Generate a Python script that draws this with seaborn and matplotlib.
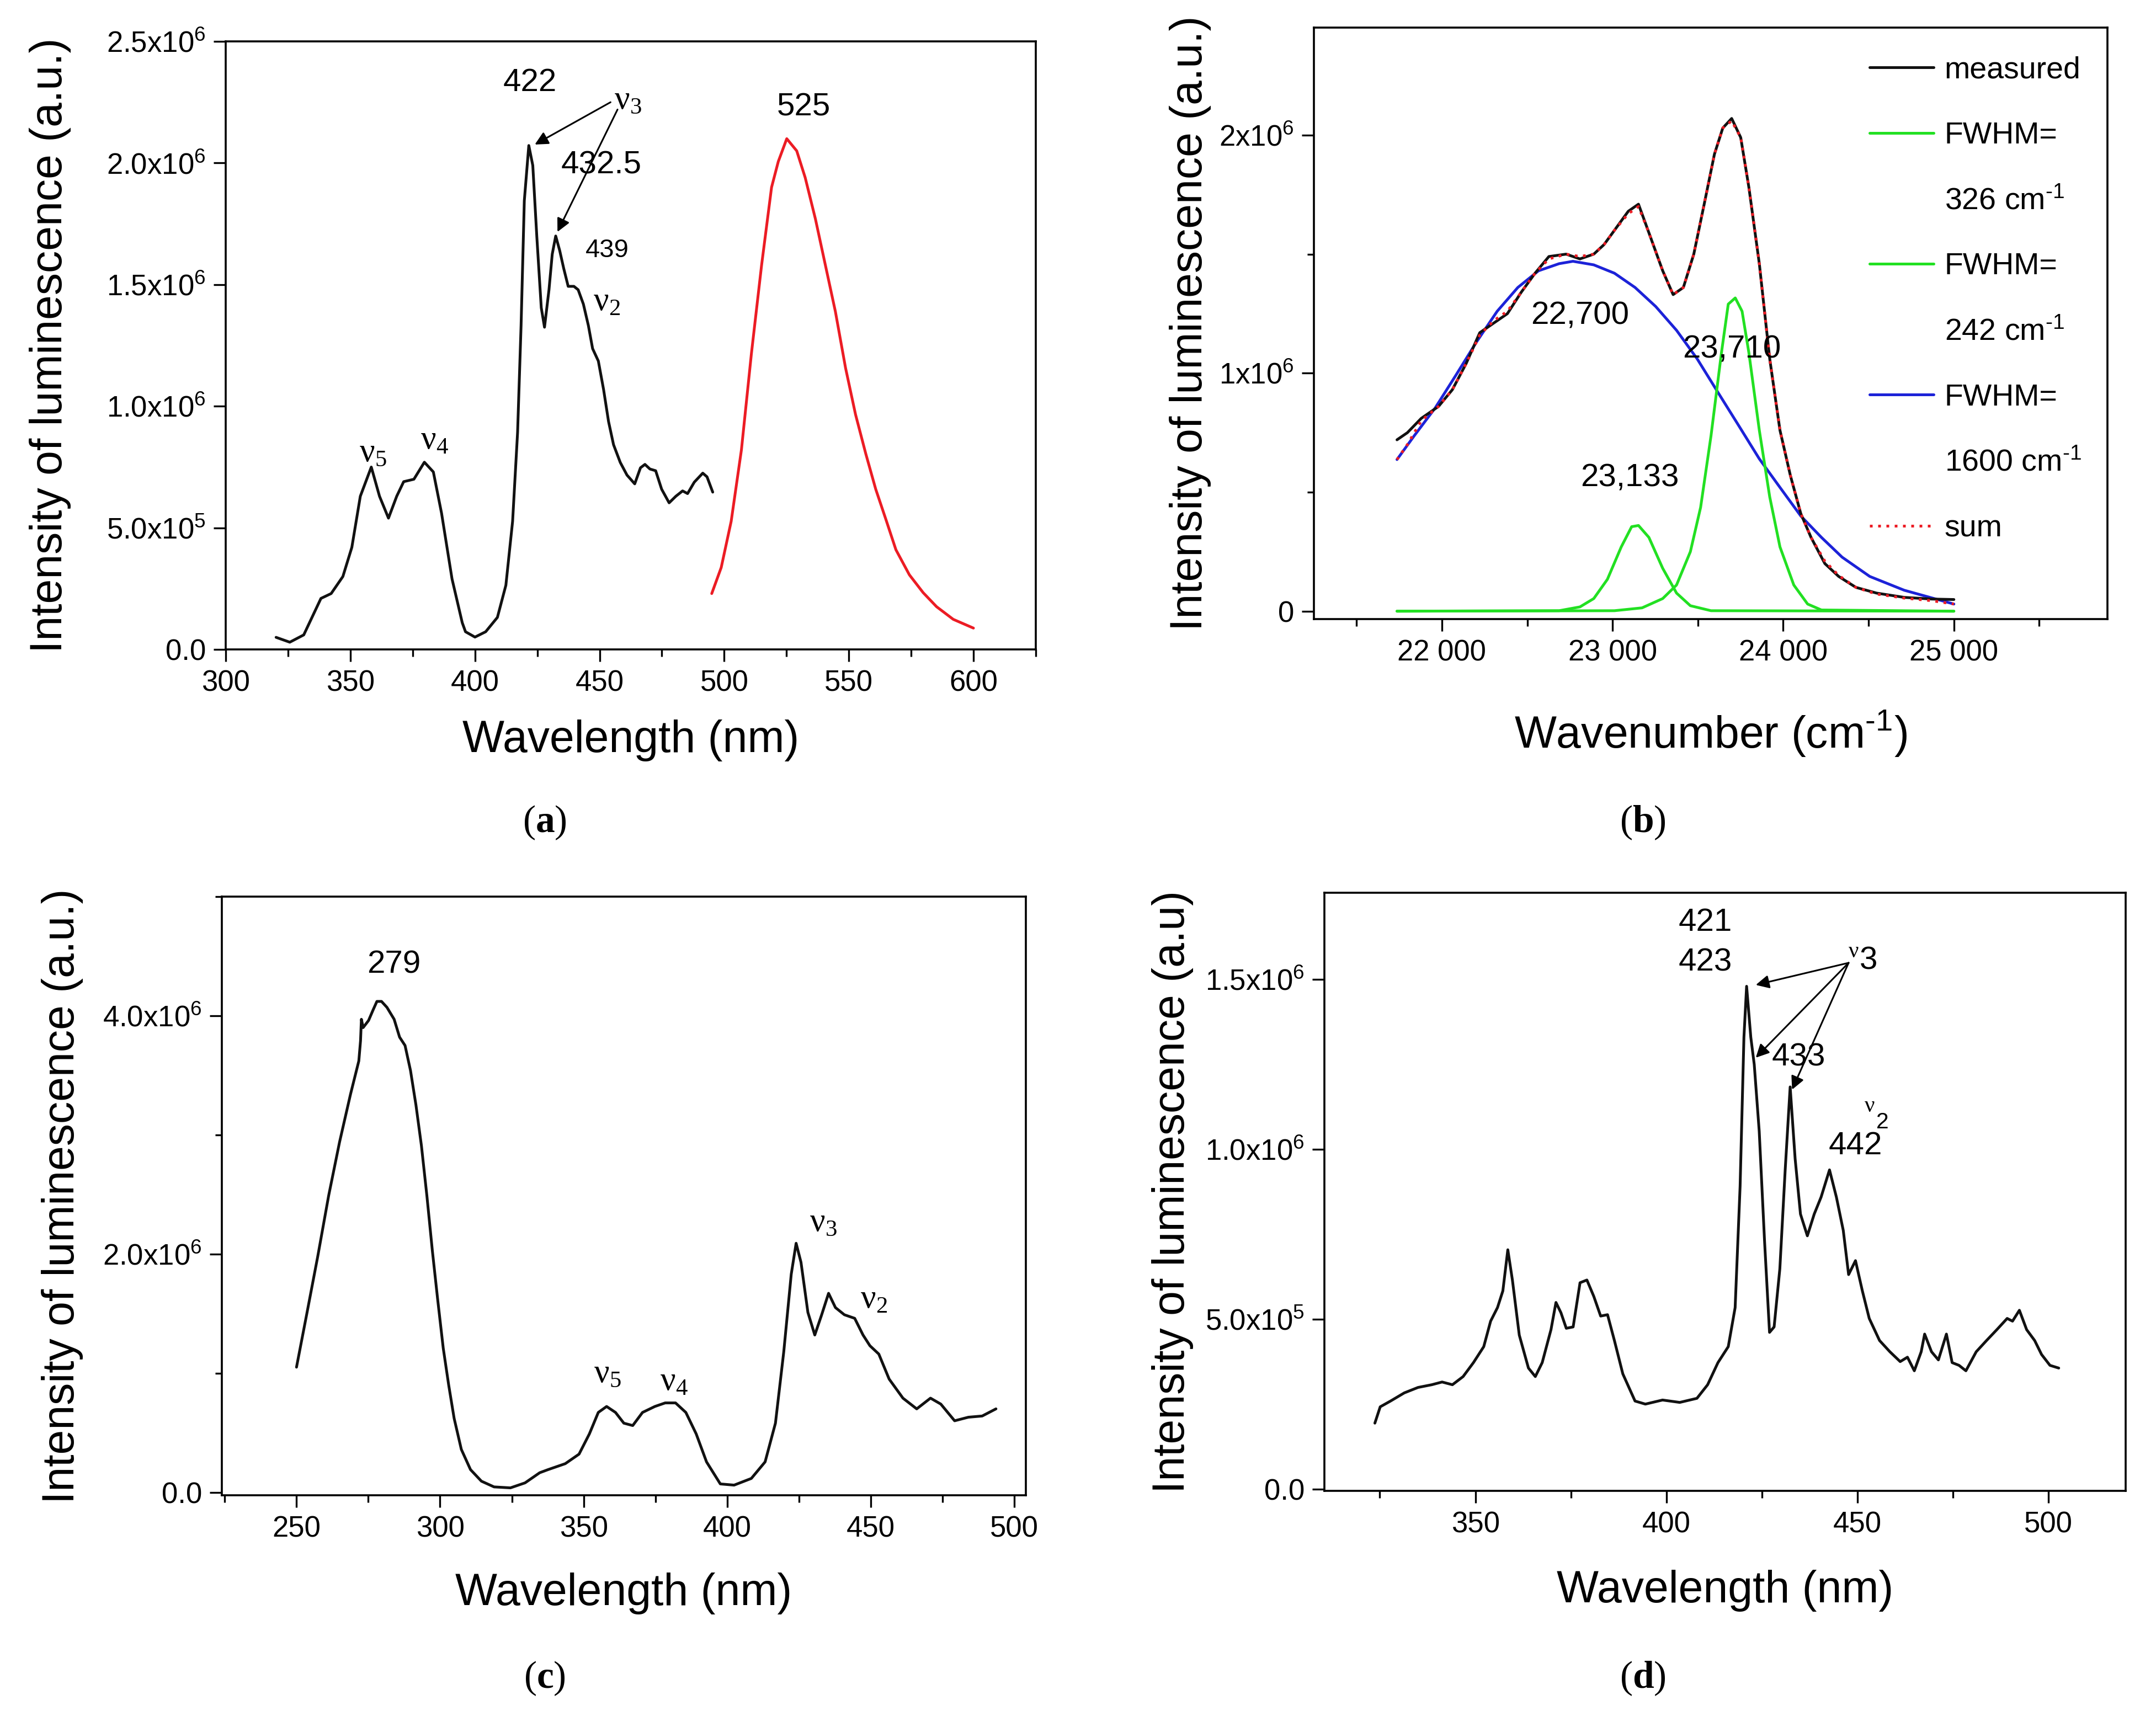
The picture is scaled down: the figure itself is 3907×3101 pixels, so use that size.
import matplotlib
matplotlib.use("Agg")
import matplotlib.pyplot as plt
import seaborn as sns
from matplotlib.lines import Line2D
from matplotlib.ticker import MultipleLocator

# ---------------- data (intensities in units of 1e6) ----------------
# (a) excitation (black) and emission (red)
a_exc_wl = [320.2, 325.7, 331.3, 338.2, 342.3, 347.0, 350.6, 354.0, 358.4, 361.7,
            365.3, 368.6, 371.4, 375.5, 379.7, 383.3, 386.6, 390.8, 394.9, 396.2,
            400.0, 404.3, 409.0, 412.4, 415.1, 417.1, 418.5, 419.8, 421.6, 423.2,
            424.8, 426.6, 427.9, 429.7, 431.0, 432.4, 434.0, 435.6, 437.4, 439.7,
            441.4, 443.5, 445.5, 447.2, 449.5, 451.6, 453.6, 455.6, 458.3, 461.0,
            464.1, 466.4, 468.2, 470.2, 472.5, 474.9, 477.9, 480.6, 483.3, 485.3,
            488.0, 491.4, 493.1, 495.4]
a_exc_int = [0.05, 0.03, 0.06, 0.21, 0.23, 0.30, 0.42, 0.63, 0.75, 0.63,
             0.54, 0.63, 0.69, 0.70, 0.77, 0.73, 0.56, 0.29, 0.11, 0.073,
             0.051, 0.073, 0.132, 0.264, 0.527, 0.893, 1.332, 1.845, 2.072, 1.99,
             1.70, 1.405, 1.325, 1.479, 1.625, 1.70, 1.64, 1.567, 1.493, 1.493,
             1.479, 1.42, 1.332, 1.237, 1.186, 1.069, 0.937, 0.842, 0.769, 0.717,
             0.681, 0.747, 0.761, 0.742, 0.735, 0.659, 0.603, 0.630, 0.652, 0.641,
             0.688, 0.725, 0.71, 0.647]
a_em_wl = [495.0, 498.8, 502.8, 506.9, 510.9, 515.0, 519.0, 521.7, 525.1, 529.1,
           532.5, 536.6, 540.6, 544.6, 548.7, 552.7, 556.8, 560.8, 564.9, 568.9,
           574.3, 579.8, 585.2, 591.9, 600.0]
a_em_int = [0.23, 0.337, 0.527, 0.82, 1.215, 1.58, 1.90, 2.006, 2.10, 2.05,
            1.94, 1.77, 1.58, 1.39, 1.157, 0.966, 0.805, 0.659, 0.534, 0.41,
            0.307, 0.234, 0.176, 0.124, 0.088]
a_yticks = [0.0, 0.5, 1.0, 1.5, 2.0, 2.5]
a_yticklabels = ["0.0", "5.0x10$^{5}$", "1.0x10$^{6}$", "1.5x10$^{6}$", "2.0x10$^{6}$", "2.5x10$^{6}$"]
a_xticks = [300, 350, 400, 450, 500, 550, 600]

# (b) deconvolution
b_meas_wn = [21737, 21798, 21879, 21980, 22061, 22142, 22222, 22303, 22384, 22465,
             22546, 22627, 22728, 22809, 22890, 22950, 23011, 23092, 23152, 23213,
             23294, 23355, 23415, 23476, 23537, 23597, 23646, 23698, 23751, 23799,
             23860, 23921, 23981, 24042, 24103, 24163, 24244, 24325, 24426, 24547,
             24709, 24871, 25000]
b_meas = [0.72, 0.75, 0.81, 0.86, 0.93, 1.04, 1.17, 1.21, 1.25, 1.34,
          1.42, 1.49, 1.50, 1.48, 1.50, 1.54, 1.60, 1.68, 1.71, 1.59,
          1.43, 1.33, 1.36, 1.50, 1.71, 1.92, 2.03, 2.07, 1.99, 1.78,
          1.46, 1.06, 0.76, 0.57, 0.41, 0.31, 0.20, 0.146, 0.10, 0.076,
          0.058, 0.051, 0.049]
b_sum = [0.637, 0.70, 0.80, 0.86, 0.93, 1.04, 1.16, 1.22, 1.26, 1.34,
         1.42, 1.48, 1.50, 1.49, 1.50, 1.54, 1.60, 1.67, 1.70, 1.59,
         1.43, 1.33, 1.36, 1.50, 1.71, 1.92, 2.03, 2.06, 1.99, 1.78,
         1.46, 1.06, 0.76, 0.57, 0.41, 0.31, 0.21, 0.150, 0.10, 0.072,
         0.055, 0.044, 0.030]
b_blue_wn = [21737, 21838, 21960, 22081, 22202, 22324, 22445, 22566, 22687, 22768,
             22890, 23011, 23132, 23253, 23375, 23496, 23617, 23739, 23860, 23981,
             24103, 24224, 24345, 24507, 24709, 25000]
b_blue = [0.637, 0.737, 0.853, 0.99, 1.13, 1.26, 1.36, 1.43, 1.46, 1.47,
          1.455, 1.42, 1.36, 1.28, 1.18, 1.06, 0.92, 0.78, 0.64, 0.52,
          0.40, 0.31, 0.227, 0.146, 0.088, 0.030]
b_g1_wn = [21737, 22687, 22809, 22890, 22970, 23051, 23112, 23152, 23213, 23294,
           23375, 23456, 23577, 25000]
b_g1 = [0.0, 0.002, 0.018, 0.053, 0.134, 0.27, 0.355, 0.36, 0.31, 0.18,
        0.076, 0.023, 0.002, 0.0]
b_g2_wn = [21737, 23011, 23173, 23294, 23375, 23456, 23516, 23577, 23638, 23678,
           23719, 23759, 23799, 23860, 23921, 23981, 24062, 24143, 24224, 25000]
b_g2 = [0.0, 0.002, 0.014, 0.053, 0.11, 0.25, 0.436, 0.737, 1.085, 1.29,
        1.316, 1.26, 1.085, 0.76, 0.48, 0.27, 0.11, 0.03, 0.005, 0.0]
b_yticks = [0, 1, 2]
b_yticklabels = ["0", "1x10$^{6}$", "2x10$^{6}$"]
b_xticks = [22000, 23000, 24000, 25000]
b_xticklabels = ["22 000", "23 000", "24 000", "25 000"]
b_legend_labels = ["measured", "FWHM=", r"326 cm$^{\text{-}1}$", "FWHM=", r"242 cm$^{\text{-}1}$",
                   "FWHM=", r"1600 cm$^{\text{-}1}$", "sum"]

# (c) excitation spectrum
c_wl = [250.0, 253.6, 257.4, 261.2, 265.0, 268.8, 271.7, 272.3, 272.6, 273.2,
        275.1, 276.7, 278.0, 279.6, 281.5, 284.0, 285.9, 287.8, 289.7, 291.6,
        293.5, 295.4, 297.3, 299.2, 301.1, 303.0, 304.9, 307.4, 310.6, 314.4,
        318.8, 324.5, 329.6, 334.7, 337.6, 343.6, 348.4, 352.0, 355.1, 358.0,
        361.1, 364.0, 367.1, 370.5, 374.8, 378.4, 382.0, 385.6, 389.2, 392.8,
        397.6, 402.4, 408.4, 413.2, 416.8, 419.7, 422.3, 424.0, 425.7, 428.1,
        430.5, 432.9, 435.3, 437.7, 440.8, 444.4, 447.3, 449.7, 452.8, 456.4,
        461.2, 466.0, 470.8, 474.4, 479.2, 484.0, 488.8, 493.6]
c_int = [1.05, 1.50, 1.98, 2.49, 2.94, 3.34, 3.62, 3.79, 3.97, 3.90,
         3.96, 4.05, 4.12, 4.12, 4.07, 3.97, 3.82, 3.75, 3.54, 3.25,
         2.91, 2.49, 2.03, 1.61, 1.21, 0.90, 0.62, 0.36, 0.19, 0.093,
         0.045, 0.037, 0.079, 0.164, 0.19, 0.24, 0.32, 0.49, 0.67, 0.72,
         0.67, 0.58, 0.56, 0.67, 0.72, 0.75, 0.75, 0.67, 0.49, 0.255,
         0.07, 0.06, 0.116, 0.255, 0.58, 1.18, 1.83, 2.09, 1.93, 1.51,
         1.32, 1.49, 1.67, 1.55, 1.49, 1.46, 1.32, 1.23, 1.16, 0.95,
         0.79, 0.70, 0.79, 0.74, 0.60, 0.63, 0.64, 0.70]
c_yticks = [0, 2, 4]
c_yticklabels = ["0.0", "2.0x10$^{6}$", "4.0x10$^{6}$"]
c_xticks = [250, 300, 350, 400, 450, 500]

# (d) excitation spectrum
d_wl = [323.7, 325.1, 327.8, 331.4, 335.0, 338.6, 341.3, 344.0, 346.8, 349.5,
        352.2, 354.0, 355.8, 357.2, 358.5, 359.7, 361.5, 363.9, 365.7, 367.5,
        369.8, 371.1, 372.4, 373.8, 375.6, 377.4, 379.2, 381.0, 382.8, 384.6,
        386.4, 388.6, 391.8, 394.5, 399.0, 403.5, 408.0, 410.8, 413.5, 416.2,
        418.0, 419.3, 420.3, 421.0, 422.1, 423.0, 424.3, 425.7, 427.0, 428.2,
        429.7, 431.1, 432.4, 433.7, 435.1, 436.9, 438.7, 440.5, 442.7, 444.5,
        446.3, 447.7, 449.5, 451.3, 453.1, 455.8, 458.5, 461.2, 463.1, 464.9,
        466.7, 467.6, 469.4, 471.2, 473.3, 474.8, 476.6, 478.4, 481.1, 483.8,
        486.5, 489.2, 490.6, 492.4, 494.3, 496.4, 498.2, 500.4, 502.7]
d_int = [0.195, 0.243, 0.26, 0.284, 0.30, 0.308, 0.316, 0.308, 0.332, 0.373,
         0.42, 0.495, 0.535, 0.584, 0.705, 0.616, 0.454, 0.357, 0.332, 0.373,
         0.47, 0.55, 0.52, 0.474, 0.478, 0.608, 0.616, 0.568, 0.51, 0.514,
         0.438, 0.34, 0.26, 0.251, 0.263, 0.256, 0.268, 0.308, 0.373, 0.42,
         0.535, 0.892, 1.33, 1.48, 1.33, 1.25, 1.054, 0.73, 0.462, 0.478,
         0.649, 0.94, 1.184, 0.973, 0.81, 0.746, 0.81, 0.86, 0.94, 0.86,
         0.762, 0.632, 0.673, 0.584, 0.503, 0.438, 0.405, 0.376, 0.389, 0.349,
         0.405, 0.457, 0.405, 0.381, 0.457, 0.373, 0.365, 0.349, 0.405, 0.438,
         0.47, 0.503, 0.495, 0.527, 0.47, 0.438, 0.397, 0.365, 0.357]
d_yticks = [0.0, 0.5, 1.0, 1.5]
d_yticklabels = ["0.0", "5.0x10$^{5}$", "1.0x10$^{6}$", "1.5x10$^{6}$"]
d_xticks = [350, 400, 450, 500]

# ---------------- style ----------------
sns.set_theme(style="ticks")
plt.rcParams.update({
    "font.family": ["Liberation Sans", "DejaVu Sans"],
    "mathtext.fontset": "custom",
    "mathtext.rm": "Liberation Sans",
    "mathtext.it": "Liberation Sans:italic",
    "mathtext.sf": "Liberation Serif",
    "mathtext.bf": "Liberation Serif:bold",
    "axes.edgecolor": "black",
    "axes.linewidth": 2.4,
    "text.color": "black",
    "axes.labelcolor": "black",
    "xtick.color": "black",
    "ytick.color": "black",
})

BLACK = "#111111"
RED = "#ec1c24"
GREEN = "#22e022"
BLUE = "#1c22d8"
LW = 3.6
TICK_FS = 38
LABEL_FS = 58
ANN_FS = 42
NU_FS = 44

fig = plt.figure(figsize=(39.07, 31.01), dpi=100)
fig.patch.set_facecolor("white")

ax_a = fig.add_axes([0.1047, 0.6204, 0.3757, 0.3554])
ax_b = fig.add_axes([0.6094, 0.6382, 0.3681, 0.3457])
ax_c = fig.add_axes([0.1029, 0.1261, 0.3729, 0.3499])
ax_d = fig.add_axes([0.6143, 0.1287, 0.3716, 0.3495])


def style_axes(ax):
    ax.tick_params(which="both", direction="out", top=False, right=False,
                   width=2.4, labelsize=TICK_FS, pad=10)
    ax.tick_params(which="major", length=16)
    ax.tick_params(which="minor", length=9)
    for s in ax.spines.values():
        s.set_visible(True)
        s.set_linewidth(2.6)
        s.set_color("black")
    ax.set_facecolor("white")


def nu(sub):
    return r"$\mathsf{ν}_{\mathsf{" + sub + "}}$"


ARROW = dict(arrowstyle="-|>", color="black", lw=2.2, mutation_scale=36,
             shrinkA=0, shrinkB=0)

# ---------------- (a) ----------------
ax = ax_a
sns.lineplot(x=a_exc_wl, y=a_exc_int, ax=ax, color=BLACK, linewidth=LW)
sns.lineplot(x=a_em_wl, y=a_em_int, ax=ax, color=RED, linewidth=LW)
ax.set_xlim(300, 625)
ax.set_ylim(0, 2.5)
ax.set_xticks(a_xticks)
ax.xaxis.set_minor_locator(MultipleLocator(25))
ax.set_yticks(a_yticks)
ax.set_yticklabels(a_yticklabels)
style_axes(ax)
ax.set_xlabel("Wavelength (nm)", fontsize=LABEL_FS)
ax.set_ylabel("Intensity of luminescence (a.u.)", fontsize=LABEL_FS)
ax.xaxis.set_label_coords(0.5, -0.115)
ax.yaxis.set_label_coords(-0.191, 0.5)
ax.text(422, 2.33, "422", fontsize=ANN_FS, ha="center", va="center")
ax.text(461.3, 2.26, nu("3"), fontsize=NU_FS, ha="center", va="center")
ax.annotate("", xy=(424, 2.076), xytext=(454.4, 2.25), arrowprops=ARROW)
ax.annotate("", xy=(433.1, 1.717), xytext=(457.2, 2.22), arrowprops=ARROW)
ax.text(450.8, 1.99, "432.5", fontsize=ANN_FS, ha="center", va="center")
ax.text(453, 1.64, "439", fontsize=34, ha="center", va="center")
ax.text(453, 1.43, nu("2"), fontsize=NU_FS, ha="center", va="center")
ax.text(532, 2.23, "525", fontsize=ANN_FS, ha="center", va="center")
ax.text(359, 0.81, nu("5"), fontsize=NU_FS, ha="center", va="center")
ax.text(383.8, 0.86, nu("4"), fontsize=NU_FS, ha="center", va="center")

# ---------------- (b) ----------------
ax = ax_b
sns.lineplot(x=b_blue_wn, y=b_blue, ax=ax, color=BLUE, linewidth=LW)
sns.lineplot(x=b_g1_wn, y=b_g1, ax=ax, color=GREEN, linewidth=LW)
sns.lineplot(x=b_g2_wn, y=b_g2, ax=ax, color=GREEN, linewidth=LW)
sns.lineplot(x=b_meas_wn, y=b_meas, ax=ax, color=BLACK, linewidth=LW)
sns.lineplot(x=b_meas_wn, y=b_sum, ax=ax, color=RED, linewidth=LW,
             linestyle=(0, (1, 2)))
ax.set_xlim(21250, 25900)
ax.set_ylim(-0.033, 2.452)
ax.set_xticks(b_xticks)
ax.set_xticklabels(b_xticklabels)
ax.xaxis.set_minor_locator(MultipleLocator(500))
ax.set_yticks(b_yticks)
ax.set_yticklabels(b_yticklabels)
ax.yaxis.set_minor_locator(MultipleLocator(0.5))
style_axes(ax)
ax.set_xlabel(r"Wavenumber (cm$^{\text{-}1}$)", fontsize=LABEL_FS)
ax.set_ylabel("Intensity of luminescence (a.u.)", fontsize=LABEL_FS)
ax.xaxis.set_label_coords(0.5, -0.15)
ax.yaxis.set_label_coords(-0.129, 0.5)
ax.text(22809, 1.24, "22,700", fontsize=ANN_FS, ha="center", va="center")
ax.text(23698, 1.10, "23,710", fontsize=ANN_FS, ha="center", va="center")
ax.text(23100, 0.56, "23,133", fontsize=ANN_FS, ha="center", va="center")
handles = [Line2D([], [], color=BLACK, lw=LW),
           Line2D([], [], color=GREEN, lw=LW),
           Line2D([], [], color="none"),
           Line2D([], [], color=GREEN, lw=LW),
           Line2D([], [], color="none"),
           Line2D([], [], color=BLUE, lw=LW),
           Line2D([], [], color="none"),
           Line2D([], [], color=RED, lw=LW, linestyle=(0, (1, 2)))]
ax.legend(handles, b_legend_labels, loc="upper left", bbox_to_anchor=(0.70, 0.952),
          frameon=False, fontsize=40, handlelength=2.1, handletextpad=0.35,
          labelspacing=1.2, borderpad=0, borderaxespad=0)

# ---------------- (c) ----------------
ax = ax_c
sns.lineplot(x=c_wl, y=c_int, ax=ax, color=BLACK, linewidth=LW)
ax.set_xlim(224, 504)
ax.set_ylim(-0.025, 5.0)
ax.set_xticks(c_xticks)
ax.xaxis.set_minor_locator(MultipleLocator(25))
ax.set_yticks(c_yticks)
ax.set_yticklabels(c_yticklabels)
ax.yaxis.set_minor_locator(MultipleLocator(1))
style_axes(ax)
ax.set_xlabel("Wavelength (nm)", fontsize=LABEL_FS)
ax.set_ylabel("Intensity of luminescence (a.u.)", fontsize=LABEL_FS)
ax.xaxis.set_label_coords(0.5, -0.129)
ax.yaxis.set_label_coords(-0.172, 0.5)
ax.text(284, 4.43, "279", fontsize=ANN_FS, ha="center", va="center")
ax.text(433.5, 2.27, nu("3"), fontsize=NU_FS, ha="center", va="center")
ax.text(451, 1.62, nu("2"), fontsize=NU_FS, ha="center", va="center")
ax.text(358.4, 1.0, nu("5"), fontsize=NU_FS, ha="center", va="center")
ax.text(381.5, 0.93, nu("4"), fontsize=NU_FS, ha="center", va="center")

# ---------------- (d) ----------------
ax = ax_d
sns.lineplot(x=d_wl, y=d_int, ax=ax, color=BLACK, linewidth=LW)
ax.set_xlim(310.5, 520.2)
ax.set_ylim(-0.004, 1.755)
ax.set_xticks(d_xticks)
ax.xaxis.set_minor_locator(MultipleLocator(25))
ax.set_yticks(d_yticks)
ax.set_yticklabels(d_yticklabels)
style_axes(ax)
ax.set_xlabel("Wavelength (nm)", fontsize=LABEL_FS)
ax.set_ylabel("Intensity of luminescence (a.u)", fontsize=LABEL_FS)
ax.xaxis.set_label_coords(0.5, -0.132)
ax.yaxis.set_label_coords(-0.163, 0.5)
ax.text(410.2, 1.667, "421", fontsize=ANN_FS, ha="center", va="center")
ax.text(410.2, 1.55, "423", fontsize=ANN_FS, ha="center", va="center")
ax.text(451.3, 1.557, r"$^{\mathsf{ν}}$3", fontsize=ANN_FS, ha="center", va="center")
for tip in [(423.4, 1.484), (423.4, 1.27), (432.9, 1.176)]:
    ax.annotate("", xy=tip, xytext=(447.7, 1.549), arrowprops=ARROW)
ax.text(434.6, 1.27, "433", fontsize=ANN_FS, ha="center", va="center")
ax.text(454.9, 1.10, r"$^{\mathsf{ν}}$$_{2}$", fontsize=ANN_FS, ha="center", va="center")
ax.text(449.5, 1.01, "442", fontsize=ANN_FS, ha="center", va="center")

# ---------------- panel letters ----------------
for x, y, letter in [(0.2526, 0.519, "a"), (0.762, 0.519, "b"),
                     (0.2526, 0.019, "c"), (0.762, 0.019, "d")]:
    fig.text(x, y, "(" + r"$\mathbf{" + letter + "}$" + ")", fontsize=50,
             ha="center", va="center", family="Liberation Serif")

fig.savefig("out.png", dpi=100, facecolor="white")
